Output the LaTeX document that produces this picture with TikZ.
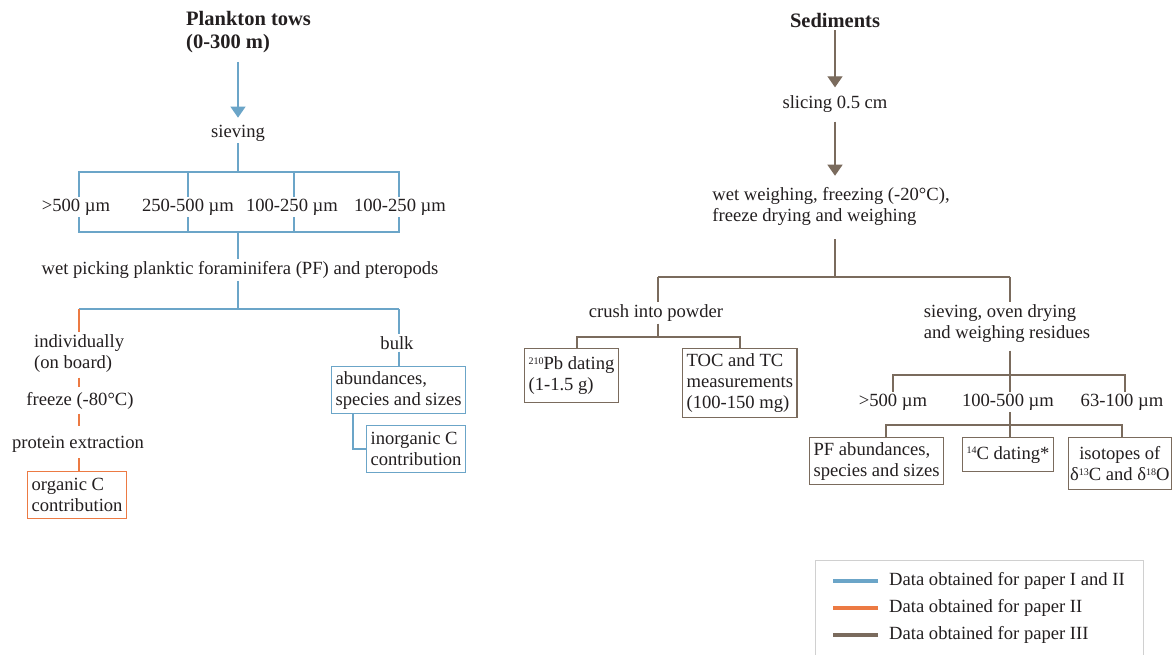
\documentclass[tikz,border=0pt]{standalone}
\usepackage{fontspec}
\setmainfont{Liberation Serif}
\usetikzlibrary{arrows.meta}
\definecolor{cblue}{HTML}{6BA5C8}
\definecolor{corange}{HTML}{EC7A43}
\definecolor{cbrown}{HTML}{7A6B5D}
\definecolor{cgray}{HTML}{D0D0D0}
\definecolor{ctext}{HTML}{231F20}
\newcommand{\mysup}[1]{\raisebox{0.62ex}{\fontsize{10}{10}\selectfont #1}}
\begin{document}
\begin{tikzpicture}[x=1pt,y=-1pt,
  every node/.style={font=\fontsize{18.6}{21}\selectfont, inner sep=2pt, text=ctext},
  head/.style={font=\fontsize{20.5}{23}\selectfont\bfseries, align=left},
  txt/.style={align=left},
  box/.style={draw, line width=1.2pt, align=left, inner xsep=4pt, inner ysep=3pt, anchor=north west},
  bl/.style={draw=cblue, line width=1.3pt},
  ol/.style={draw=corange, line width=1.3pt},
  brl/.style={draw=cbrown, line width=1.3pt},
  tip/.style={-{Triangle[width=15pt,length=11pt]}},
  leg/.style={line width=4pt}]
\fill[white] (0,0) rectangle (1175,655);
\useasboundingbox (0,0) rectangle (1175,655);

% ---------------- Plankton tows ----------------
\node[head, anchor=west] (pt) at (184,32) {Plankton tows\\(0-300 m)};
\node (siev) at (238,133) {sieving};
\draw[bl, tip, shorten <=7pt, shorten >=5pt] (pt.south -| siev.north) -- (siev.north);

\node (s1) at (76,207) {>500 µm};
\node (s2) at (188,207) {250-500 µm};
\node (s3) at (292,207) {100-250 µm};
\node (s4) at (400,207) {100-250 µm};
\coordinate (j1) at (238,172);
\coordinate (j2) at (238,232);
\draw[bl] (siev) -- (j1);
\draw[bl] ([xshift=3pt]s1.north) |- (j1) -| ([xshift=-1pt]s4.north);
\draw[bl] (s2.north) -- (s2.north |- j1);
\draw[bl] ([xshift=2pt]s3.north) -- ([xshift=2pt]s3.north |- j1);
\draw[bl] ([xshift=3pt]s1.south) |- (j2) -| ([xshift=-1pt]s4.south);
\draw[bl] (s2.south) -- (s2.south |- j2);
\draw[bl] ([xshift=2pt]s3.south) -- ([xshift=2pt]s3.south |- j2);

\node (wet) at (240,270) {wet picking planktic foraminifera (PF) and pteropods};
\draw[bl] (j2) -- (wet.north -| j2);
\coordinate (j3) at (238,309);
\coordinate (j3l) at (79,309);
\coordinate (j3r) at (399,309);
\draw[bl] (wet.south -| j3) -- (j3);
\draw[bl] (j3l) -- (j3r);

\node[txt, anchor=west] (ind) at (32,353.5) {individually\\(on board)};
\node (frz) at (80,401) {freeze (-80°C)};
\node (prot) at (78,444) {protein extraction};
\node[box, draw=corange, minimum height=47pt] (org) at (27,471) {organic C\\contribution};
\draw[ol] (j3l) -- (j3l |- ind.north);
\draw[ol, shorten <=3pt, shorten >=3pt] (j3l |- ind.south) -- (j3l |- frz.north);
\draw[ol, shorten <=2pt, shorten >=8pt] (j3l |- frz.south) -- (j3l |- prot.north);
\draw[ol, shorten <=4pt] (j3l |- prot.south) -- (j3l |- org.north);

\node (bulk) at (397,343) {bulk};
\draw[bl] (j3r) -- (j3r |- bulk.north);
\node[box, draw=cblue, minimum height=47pt] (ab) at (331,366) {abundances,\\species and sizes};
\draw[bl] (j3r |- bulk.south) -- (j3r |- ab.north);
\node[box, draw=cblue, minimum height=47pt] (inorg) at (366,425) {inorganic C\\contribution};
\draw[bl] ([xshift=22pt]ab.south west) |- (inorg.west);

% ---------------- Sediments ----------------
\node[head] (sed) at (835,20) {Sediments};
\node (slc) at (835,104) {slicing 0.5 cm};
\draw[brl, tip, shorten <=1pt, shorten >=6pt] (sed) -- (slc);
\node[txt] (ww) at (831,206) {wet weighing, freezing (-20°C),\\freeze drying and weighing};
\draw[brl, tip, shorten <=7pt, shorten >=9pt] (slc) -- (ww.north -| slc);

\coordinate (k1) at (835,277);
\coordinate (k1l) at (658,277);
\coordinate (k1r) at (1010,277);
\draw[brl, shorten <=12pt] (ww.south -| k1) -- (k1);
\draw[brl] (k1l) -- (k1r);

\node (cr) at (656,313) {crush into powder};
\node[txt] (sv) at (1007,323.5) {sieving, oven drying\\and weighing residues};
\draw[brl] (k1l) -- (k1l |- cr.north);
\draw[brl] (k1r) -- (k1r |- sv.north);

\coordinate (k2) at (658,337);
\coordinate (k2l) at (577,337);
\coordinate (k2r) at (740,337);
\node[box, draw=cbrown, minimum height=54pt] (pb) at (524,348) {\mysup{210}Pb dating\\(1-1.5 g)};
\node[box, draw=cbrown, minimum height=69pt] (toc) at (682,348) {TOC and TC\\measurements\\(100-150 mg)};
\draw[brl] (k1l |- cr.south) -- (k2);
\draw[brl] (pb.north -| k2l) |- (k2) -| (toc.north -| k2r);

\coordinate (k3) at (1010,375);
\coordinate (k3l) at (893,375);
\coordinate (k3r) at (1125,375);
\node (m1) at (893,402) {>500 µm};
\node (m2) at (1008,402) {100-500 µm};
\node (m3) at (1122,402) {63-100 µm};
\draw[brl, shorten <=6pt] (sv.south -| k3) -- (m2.north -| k3);
\draw[brl] (m1.north -| k3l) |- (k3) -| (m3.north -| k3r);

\coordinate (k4) at (1010,425);
\coordinate (k4l) at (886,425);
\coordinate (k4r) at (1122,425);
\node[box, draw=cbrown, minimum height=47pt] (pf) at (809,437) {PF abundances,\\species and sizes};
\node[box, draw=cbrown, minimum height=34pt] (c14) at (962,437) {\mysup{14}C dating*};
\node[box, draw=cbrown, minimum height=52pt, align=center, inner xsep=1.5pt] (iso) at (1068,437) {isotopes of\\δ\mysup{13}C and δ\mysup{18}O};
\draw[brl] (m2.south -| k4) -- (c14.north -| k4);
\draw[brl] (pf.north -| k4l) |- (k4) -| (iso.north -| k4r);

% ---------------- Legend ----------------
\draw[cgray, line width=0.8pt] (815,660) -- (815,560) -- (1143,560) -- (1143,660);
\node[anchor=west] (l1) at (887,581) {Data obtained for paper I and II};
\node[anchor=west] (l2) at (887,608) {Data obtained for paper II};
\node[anchor=west] (l3) at (887,635) {Data obtained for paper III};
\draw[leg, cblue] ([xshift=-9pt]l1.west) -- ++(-45,0);
\draw[leg, corange] ([xshift=-9pt]l2.west) -- ++(-45,0);
\draw[leg, cbrown] ([xshift=-9pt]l3.west) -- ++(-45,0);
\end{tikzpicture}
\end{document}
